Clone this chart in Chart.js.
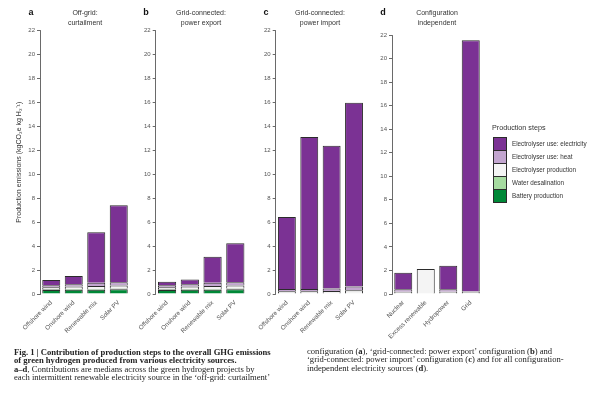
<!DOCTYPE html>
<html>
<head>
<meta charset="utf-8">
<script src="https://cdn.jsdelivr.net/npm/chart.js@4.4.1/dist/chart.umd.min.js"></script>
<style>
  body { margin: 0; background: #fff; width: 600px; height: 393px; overflow: hidden; position: relative;
         font-family: 'Liberation Sans', Arial, sans-serif; color: #333; }
  canvas { position: absolute; top: 0; }
  .letter { position: absolute; top: 7px; width: 12px; margin-left: -6px; text-align: center;
            font-weight: bold; font-size: 9px; color: #111; will-change: transform; }
  .ptitle { position: absolute; top: 8px; width: 120px; margin-left: -60px; text-align: center;
            font-size: 7px; line-height: 10px; color: #333; will-change: transform; }
  #legend { position: absolute; left: 492px; top: 123px; font-size: 6.3px; color: #333; will-change: transform; }
  #legend .head { font-size: 7.2px; margin-bottom: 5px; }
  #legend .row { display: flex; align-items: center; height: 13px; }
  #legend .sw { width: 12px; height: 12px; border: 1px solid #2b2b2b; margin: 0 5px -1px 1px; box-sizing: content-box; }
  .cap { position: absolute; font-family: 'Liberation Serif', 'Times New Roman', serif; font-size: 8.6px;
         line-height: 8.3px; color: #222; white-space: nowrap; will-change: transform; }
</style>
</head>
<body>
<canvas id="pa" width="140" height="345" style="left:0px"></canvas>
<canvas id="pb" width="136" height="345" style="left:115px"></canvas>
<canvas id="pc" width="135" height="345" style="left:235px"></canvas>
<canvas id="pd" width="135" height="345" style="left:352px"></canvas>
<div id="titles"></div>
<div id="legend"></div>
<div class="cap" style="left:14px;top:348px">
  <b>Fig. 1 | Contribution of production steps to the overall GHG emissions</b><br>
  <b>of green hydrogen produced from various electricity sources.</b><br>
  <b>a–d</b>, Contributions are medians across the green hydrogen projects by<br>
  each intermittent renewable electricity source in the ‘off-grid: curtailment’
</div>
<div class="cap" style="left:307px;top:347px">
  configuration (<b>a</b>), ‘grid-connected: power export’ configuration (<b>b</b>) and<br>
  ‘grid-connected: power import’ configuration (<b>c</b>) and for all configuration-<br>
  independent electricity sources (<b>d</b>).
</div>
<script>
// Production emissions (kgCO2e per kg H2).
const intermittent = ['Offshore wind', 'Onshore wind', 'Renewable mix', 'Solar PV'];
const independent = ['Nuclear', 'Excess renewable', 'Hydropower', 'Grid'];

const yTicks = [0, 2, 4, 6, 8, 10, 12, 14, 16, 18, 20, 22];

// bottom -> top order inside each bar
const steps = ['Battery production', 'Water desalination', 'Electrolyser production',
               'Electrolyser use: heat', 'Electrolyser use: electricity'];

// a: off-grid curtailment
const aBattery = [0.33, 0.36, 0.36, 0.40];
const aWater   = [0.06, 0.06, 0.06, 0.06];
const aElProd  = [0.17, 0.20, 0.24, 0.24];
const aHeat    = [0.17, 0.20, 0.28, 0.28];
const aElec    = [0.44, 0.68, 4.21, 6.42];

// b: grid-connected power export
const bBattery = [0.33, 0.36, 0.36, 0.40];
const bWater   = [0.06, 0.06, 0.06, 0.06];
const bElProd  = [0.17, 0.20, 0.24, 0.24];
const bHeat    = [0.17, 0.20, 0.28, 0.28];
const bElec    = [0.30, 0.40, 2.18, 3.26];

// c: grid-connected power import
const cBattery = [0, 0, 0, 0];
const cWater   = [0.05, 0.05, 0.05, 0.05];
const cElProd  = [0.17, 0.17, 0.20, 0.27];
const cHeat    = [0.20, 0.20, 0.20, 0.30];
const cElec    = [6.00, 12.68, 11.93, 15.34];

// d: configuration independent
const dBattery = [0, 0, 0, 0];
const dWater   = [0.05, 0.05, 0.05, 0.05];
const dElProd  = [0.15, 2.07, 0.15, 0.15];
const dHeat    = [0.20, 0, 0.20, 0.05];
const dElec    = [1.41, 0, 2.00, 21.30];

const COLORS = {
  'Battery production': '#008837',
  'Water desalination': '#a6dba0',
  'Electrolyser production': '#f4f4f4',
  'Electrolyser use: heat': '#c2a5cf',
  'Electrolyser use: electricity': '#7b3294',
};

const PANELS = [
  { id: 'pa', left: 0,   letter: 'a', title: ['Off-grid:', 'curtailment'],
    cats: intermittent, series: [aBattery, aWater, aElProd, aHeat, aElec],
    yW: 40, plotW: 90, top: 30.5, yTitle: true },
  { id: 'pb', left: 115, letter: 'b', title: ['Grid-connected:', 'power export'],
    cats: intermittent, series: [bBattery, bWater, bElProd, bHeat, bElec],
    yW: 40.7, plotW: 91, top: 30.5 },
  { id: 'pc', left: 235, letter: 'c', title: ['Grid-connected:', 'power import'],
    cats: intermittent, series: [cBattery, cWater, cElProd, cHeat, cElec],
    yW: 40.7, plotW: 89.5, top: 30.5 },
  { id: 'pd', left: 352, letter: 'd', title: ['Configuration', 'independent'],
    cats: independent, series: [dBattery, dWater, dElProd, dHeat, dElec],
    yW: 40, plotW: 90, top: 35 },
];

const FONT = 'Liberation Sans, Arial, sans-serif';
const CANVAS_H = 345;
const BASE_Y = 294;

function renderPanel(p) {
  const el = document.getElementById(p.id);
  const padRight = el.width - p.yW - p.plotW;
  new Chart(el, {
    type: 'bar',
    data: {
      labels: p.cats,
      datasets: steps.map((s, i) => ({
        label: s,
        data: p.series[i],
        backgroundColor: COLORS[s],
        borderColor: '#2b2b2b',
        borderWidth: 1,
        categoryPercentage: 1,
        barPercentage: 0.8,
      })),
    },
    options: {
      responsive: false,
      animation: false,
      layout: { padding: { top: p.top, right: padRight, left: 0, bottom: 0 } },
      plugins: { legend: { display: false }, tooltip: { enabled: false } },
      scales: {
        x: {
          stacked: true,
          grid: { display: false, drawTicks: false },
          border: { display: false },
          afterFit: s => { s.height = CANVAS_H - BASE_Y; },
          ticks: {
            autoSkip: false, minRotation: 45, maxRotation: 45, padding: 5,
            color: '#555', font: { family: FONT, size: 6.3 },
          },
        },
        y: {
          stacked: true,
          min: 0, max: 22,
          afterFit: s => { s.width = p.yW; },
          afterBuildTicks: s => { s.ticks = yTicks.map(v => ({ value: v })); },
          grid: { drawOnChartArea: false, drawTicks: true, tickLength: 3, color: '#444', lineWidth: 0.8 },
          border: { display: true, color: '#444', width: 0.8 },
          ticks: { padding: 2, color: '#555', font: { family: FONT, size: 6 } },
          title: {
            display: !!p.yTitle,
            text: 'Production emissions (kgCO₂e kg H₂⁻¹)',
            color: '#333', font: { family: FONT, size: 7 },
            padding: { top: 15, bottom: 0 },
          },
        },
      },
    },
  });

  const axisX = p.left + p.yW;
  const titles = document.getElementById('titles');
  const l = document.createElement('div');
  l.className = 'letter';
  l.style.left = (axisX - 9.5) + 'px';
  l.textContent = p.letter;
  titles.appendChild(l);
  const t = document.createElement('div');
  t.className = 'ptitle';
  t.style.left = (axisX + p.plotW / 2) + 'px';
  t.innerHTML = p.title.join('<br>');
  titles.appendChild(t);
}

function renderLegend() {
  const box = document.getElementById('legend');
  box.innerHTML = '<div class="head">Production steps</div>';
  for (const s of steps.slice().reverse()) {
    const row = document.createElement('div');
    row.className = 'row';
    row.innerHTML = `<span class="sw" style="background:${COLORS[s]}"></span><span>${s}</span>`;
    box.appendChild(row);
  }
}

PANELS.forEach(renderPanel);
renderLegend();
</script>
</body>
</html>
